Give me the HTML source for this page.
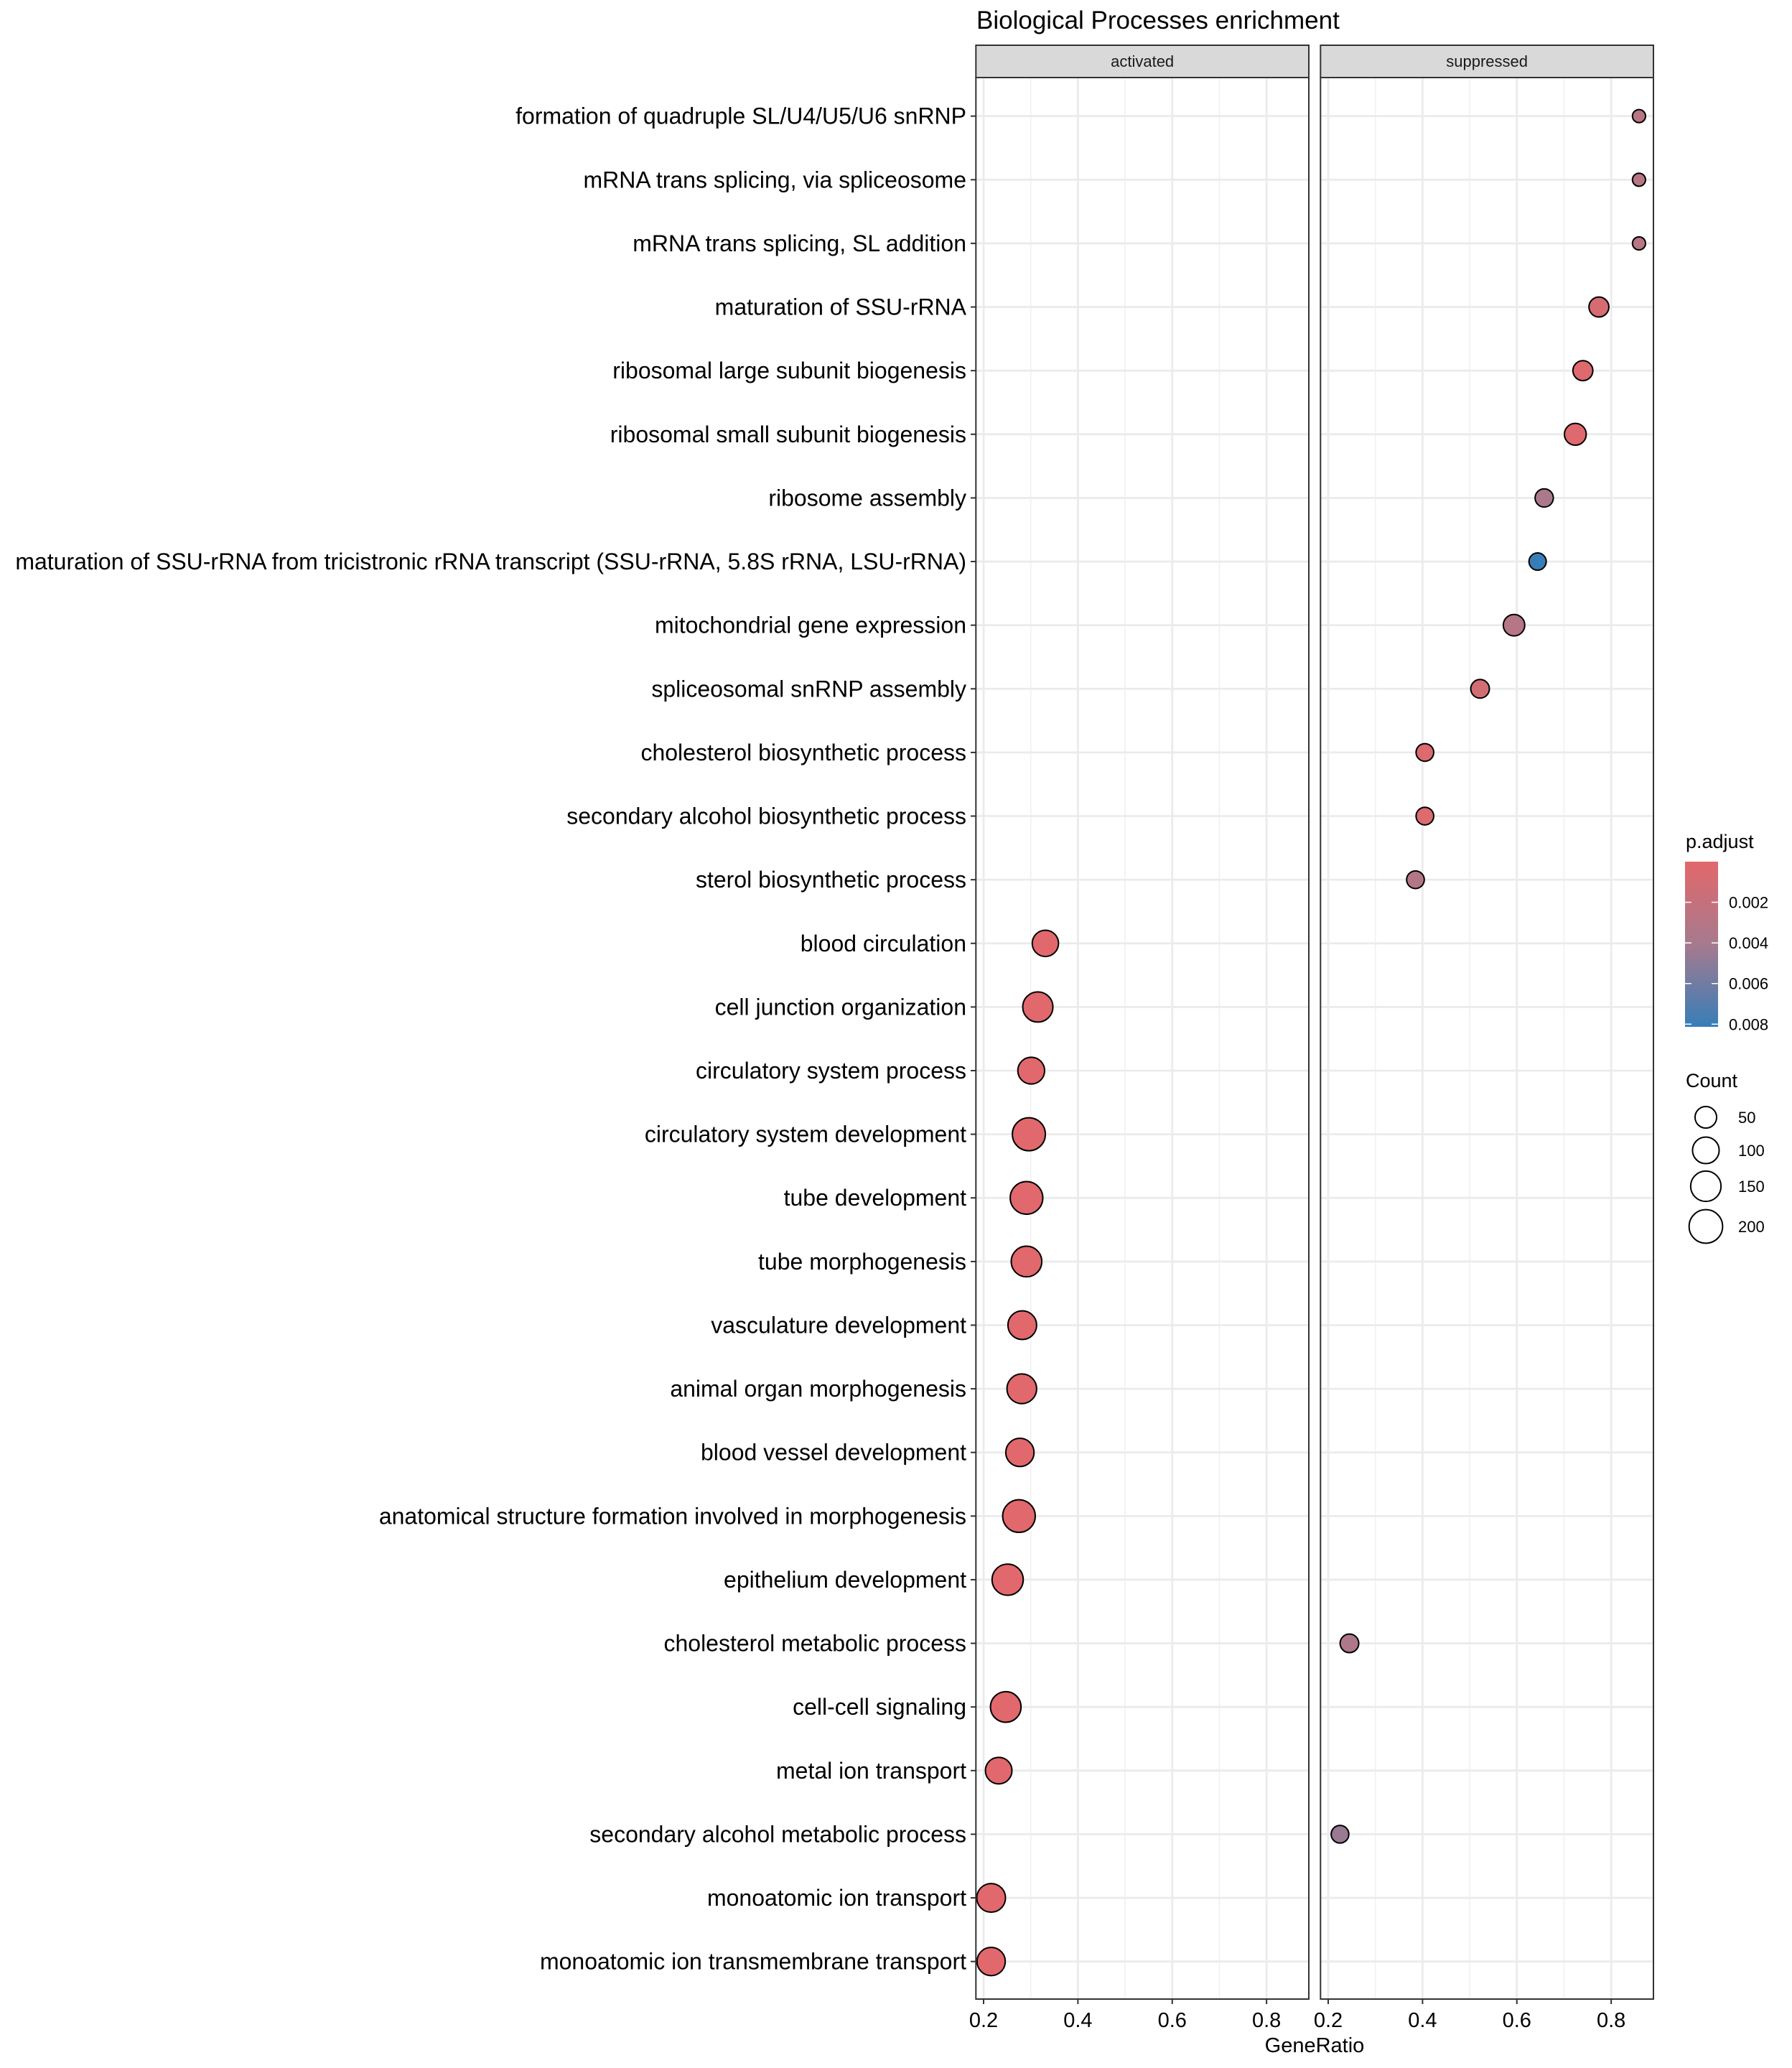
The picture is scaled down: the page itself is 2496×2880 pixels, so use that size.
<!DOCTYPE html>
<html><head><meta charset="utf-8"><style>
html,body{margin:0;padding:0;background:#fff}
svg{display:block;font-family:"Liberation Sans",Arial,sans-serif}
</style></head><body>
<svg id="chart" width="2496" height="2880" viewBox="0 0 2496 2880" xmlns="http://www.w3.org/2000/svg">
<text x="1360" y="40" font-size="35" fill="#000">Biological Processes enrichment</text>
<g id="panels"></g>
<g id="labels"></g>
<text x="1831" y="2858" font-size="29" text-anchor="middle" fill="#000">GeneRatio</text>
<g>
<defs><linearGradient id="cg" x1="0" y1="0" x2="0" y2="1">
<stop offset="0" stop-color="#e2686b"/><stop offset="0.5" stop-color="#a67a8e"/><stop offset="1" stop-color="#377eb8"/></linearGradient></defs>
<text x="2348" y="1181" font-size="27" fill="#000">p.adjust</text>
<rect x="2347" y="1200" width="46" height="230" fill="url(#cg)"/>
<g id="cticks"></g>
</g>
<g>
<text x="2348" y="1514" font-size="27" fill="#000">Count</text>
<g id="sizeleg"></g>
</g>
</svg>
<script>
const terms=["formation of quadruple SL/U4/U5/U6 snRNP","mRNA trans splicing, via spliceosome","mRNA trans splicing, SL addition","maturation of SSU-rRNA","ribosomal large subunit biogenesis","ribosomal small subunit biogenesis","ribosome assembly","maturation of SSU-rRNA from tricistronic rRNA transcript (SSU-rRNA, 5.8S rRNA, LSU-rRNA)","mitochondrial gene expression","spliceosomal snRNP assembly","cholesterol biosynthetic process","secondary alcohol biosynthetic process","sterol biosynthetic process","blood circulation","cell junction organization","circulatory system process","circulatory system development","tube development","tube morphogenesis","vasculature development","animal organ morphogenesis","blood vessel development","anatomical structure formation involved in morphogenesis","epithelium development","cholesterol metabolic process","cell-cell signaling","metal ion transport","secondary alcohol metabolic process","monoatomic ion transport","monoatomic ion transmembrane transport"];
const actIdx=[13,14,15,16,17,18,19,20,21,22,23,25,26,28,29];
const actRatio=[0.331,0.315,0.301,0.296,0.291,0.291,0.282,0.281,0.277,0.275,0.251,0.247,0.232,0.216,0.216];
const actCount=[96,147,102,192,185,153,126,140,120,185,162,153,99,126,120];
const actP=[0.0001,0.0001,0.0001,0.0001,0.0001,0.0001,0.0001,0.0001,0.0001,0.0001,0.0001,0.0001,0.0001,0.0001,0.0001];
const supIdx=[0,1,2,3,4,5,6,7,8,9,10,11,12,24,27];
const supRatio=[0.859,0.859,0.859,0.774,0.740,0.724,0.658,0.644,0.594,0.522,0.405,0.405,0.385,0.245,0.225];
const supCount=[11,11,11,38,38,52,28,23,49,30,25,25,25,30,25];
const supP=[0.0028,0.0028,0.0028,0.0008,0.0003,0.0003,0.0036,0.0081,0.003,0.001,0.0004,0.0004,0.0032,0.0035,0.0045];
const xTicks=[0.2,0.4,0.6,0.8];
const xMinor=[0.3,0.5,0.7];
const pTicks=[0.002,0.004,0.006,0.008];
const sizeBreaks=[50,100,150,200];

const NS="http://www.w3.org/2000/svg";
function mk(t,a,p){const e=document.createElementNS(NS,t);for(const k in a)e.setAttribute(k,a[k]);p.appendChild(e);return e;}
const rowY=i=>161.7+i*88.62;
const xDom=[0.1837,0.8896];
function xScale(v,left){return left+(v-xDom[0])/(xDom[1]-xDom[0])*463.7;}
function rScale(c){return 9+16.5*Math.sqrt(Math.max(0,c-10)/220);}
function hex(c){return [1,3,5].map(i=>parseInt(c.substr(i,2),16));}
const stops=[[0,hex("#e2686b")],[0.004,hex("#a67a8e")],[0.0081,hex("#377eb8")]];
function col(p){p=Math.max(0,Math.min(0.0081,p));let a=stops[0],b=stops[1];if(p>0.004){a=stops[1];b=stops[2];}
const t=(p-a[0])/(b[0]-a[0]);const c=a[1].map((v,k)=>Math.round(v+(b[1][k]-v)*t));return `rgb(${c.join(",")})`;}

const panels=document.getElementById("panels");
const defs=[{name:"activated",left:1359.3,idx:actIdx,ratio:actRatio,count:actCount,p:actP},
{name:"suppressed",left:1839.3,idx:supIdx,ratio:supRatio,count:supCount,p:supP}];
const pTop=108,pBot=2784,W=463.7;
defs.forEach(d=>{
  const g=mk("g",{},panels);
  
  
  mk("rect",{x:d.left,y:pTop,width:W,height:pBot-pTop,fill:"#fff"},g);
  xMinor.forEach(v=>{const l=mk("line",{x1:xScale(v,d.left),x2:xScale(v,d.left),y1:pTop,y2:pBot,stroke:"#f0f0f0","stroke-width":1.5},g);
    
    });
  xTicks.forEach(v=>{const l=mk("line",{x1:xScale(v,d.left),x2:xScale(v,d.left),y1:pTop,y2:pBot,stroke:"#ebebeb","stroke-width":2.8},g);
    
    });
  terms.forEach((t,i)=>{const l=mk("line",{x1:d.left,x2:d.left+W,y1:rowY(i),y2:rowY(i),stroke:"#ebebeb","stroke-width":2.8},g);
    
    });
  d.idx.forEach((ti,k)=>{
    const c=mk("circle",{cx:xScale(d.ratio[k],d.left),cy:rowY(ti),r:rScale(d.count[k])-1,fill:col(d.p[k]),stroke:"#000","stroke-width":2},g);
    
    
  });
  mk("rect",{x:d.left,y:pTop,width:W,height:pBot-pTop,fill:"none",stroke:"#333","stroke-width":2},g);
  const s=mk("rect",{x:d.left,y:63,width:W,height:45,fill:"#d9d9d9",stroke:"#333","stroke-width":2},g);
  
  
  const st=mk("text",{x:d.left+W/2,y:93,"font-size":22,"text-anchor":"middle",fill:"#1a1a1a"},g);
  st.textContent=d.name;
  
  
  xTicks.forEach(v=>{
    mk("line",{x1:xScale(v,d.left),x2:xScale(v,d.left),y1:pBot,y2:pBot+7,stroke:"#333","stroke-width":2},g);
    const tx=mk("text",{x:xScale(v,d.left),y:2823,"font-size":29,"text-anchor":"middle",fill:"#000"},g);
    tx.textContent=v.toFixed(1);
    
    
  });
});
const lab=document.getElementById("labels");
terms.forEach((t,i)=>{
  mk("line",{x1:1352,x2:1359,y1:rowY(i),y2:rowY(i),stroke:"#333","stroke-width":2},lab);
  const tx=mk("text",{x:1346,y:rowY(i)+11,"font-size":32,"text-anchor":"end",fill:"#000"},lab);
  tx.textContent=t;
  
  
});
const ct=document.getElementById("cticks");
pTicks.forEach(p=>{
  const y=1200+p/0.00806*228;
  mk("line",{x1:2347,x2:2356,y1:y,y2:y,stroke:"#fff","stroke-width":1.5},ct);
  mk("line",{x1:2384,x2:2393,y1:y,y2:y,stroke:"#fff","stroke-width":1.5},ct);
  const tx=mk("text",{x:2408,y:y+8,"font-size":22,fill:"#000"},ct);
  tx.textContent=p.toFixed(3);
  
  
});
const sl=document.getElementById("sizeleg");
const sy=[1556,1602,1652,1708];
sizeBreaks.forEach((c,k)=>{
  const ci=mk("circle",{cx:2376,cy:sy[k],r:rScale(c)-1,fill:"#fff",stroke:"#000","stroke-width":2},sl);
  
  
  const tx=mk("text",{x:2421,y:sy[k]+8,"font-size":22,fill:"#000"},sl);
  tx.textContent=c;
  
  
});
</script>
</body></html>
